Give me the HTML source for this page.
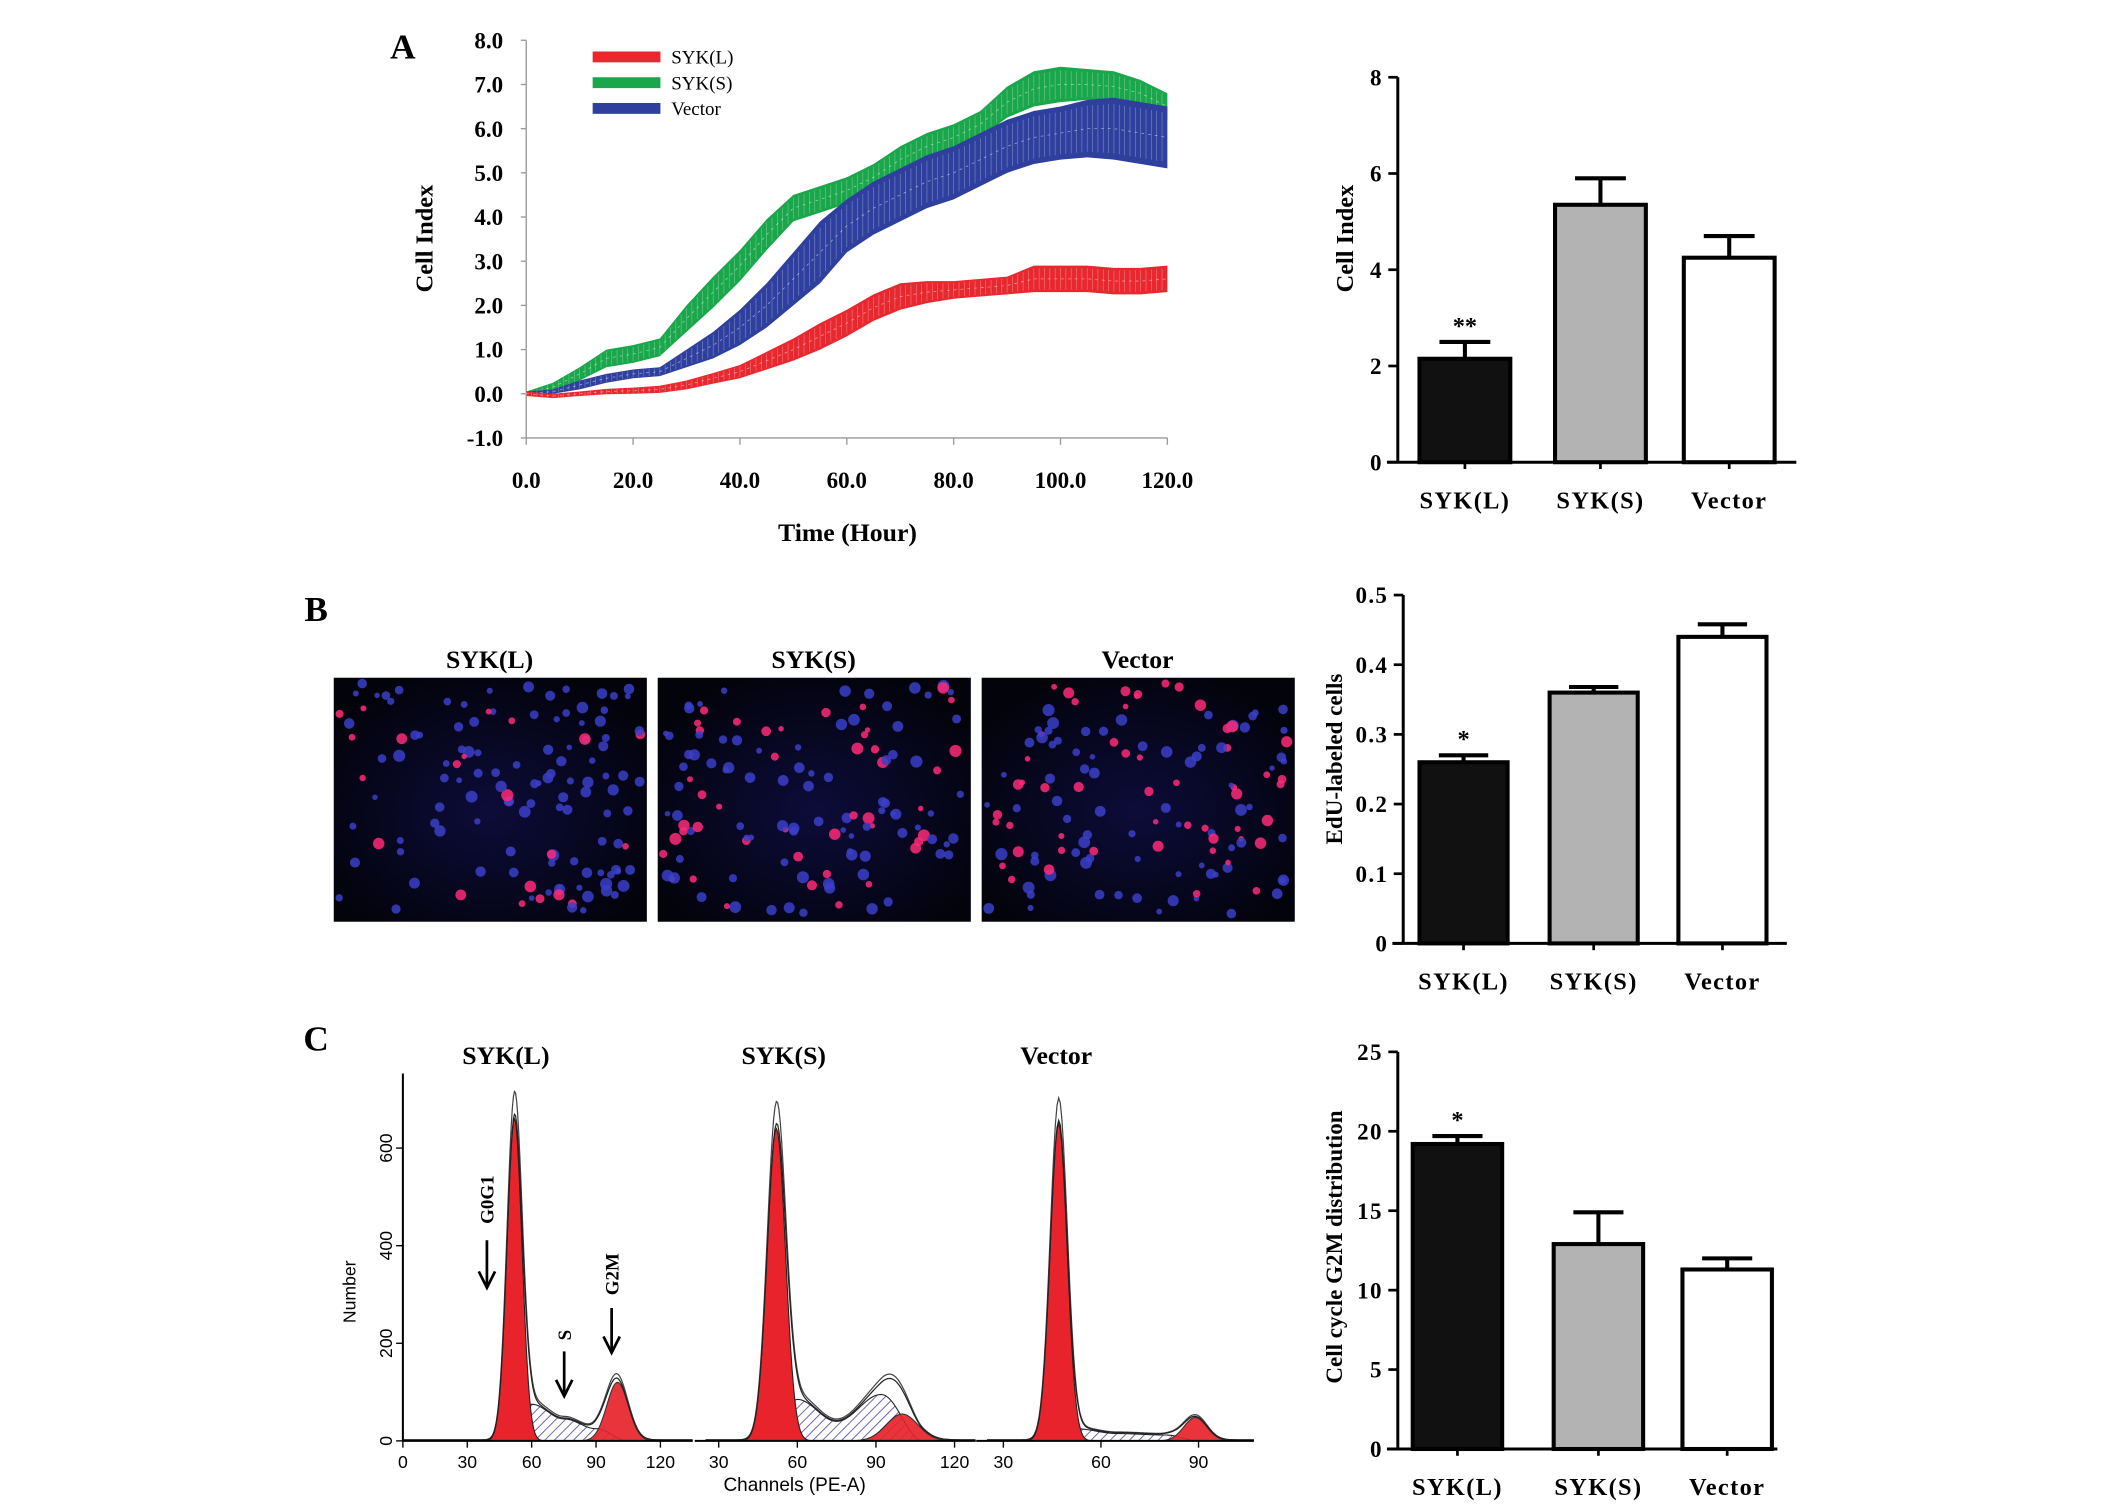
<!DOCTYPE html>
<html><head><meta charset="utf-8"><style>
html,body{margin:0;padding:0;background:#fff;}
svg{display:block;}
.sf{font-family:"Liberation Serif",serif;font-weight:bold;}
.ss{font-family:"Liberation Sans",sans-serif;}
</style></head><body>
<svg id="fig" width="2126" height="1510" viewBox="0 0 1568 1114" xmlns="http://www.w3.org/2000/svg">
<defs>
<pattern id="hatch" patternUnits="userSpaceOnUse" width="5" height="5" patternTransform="rotate(45)">
<rect width="5" height="5" fill="#fff"/><line x1="0" y1="0" x2="0" y2="5" stroke="#4a4aa0" stroke-width="1.2"/>
</pattern>
<radialGradient id="glow" cx="50%" cy="55%" r="60%"><stop offset="0" stop-color="#0c0c3a"/><stop offset="1" stop-color="#03030c"/></radialGradient>
</defs>
<g id="root"></g>
</svg>
<script>
// ---------- Panel A line chart data ----------
const hours = [0,5,10,15,20,25,30,35,40,45,50,55,60,65,70,75,80,85,90,95,100,105,110,115,120];
const sykLMean = [0,-0.05,0,0.05,0.07,0.1,0.2,0.35,0.5,0.75,1.0,1.3,1.6,1.95,2.2,2.3,2.35,2.4,2.45,2.6,2.6,2.6,2.55,2.55,2.6];
const sykLErr  = [0.05,0.05,0.05,0.06,0.07,0.08,0.1,0.12,0.15,0.2,0.25,0.3,0.3,0.3,0.3,0.25,0.2,0.2,0.2,0.3,0.3,0.3,0.3,0.3,0.3];
const sykSMean = [0,0.15,0.45,0.8,0.9,1.05,1.7,2.3,2.9,3.6,4.2,4.4,4.6,4.9,5.3,5.6,5.8,6.1,6.6,6.9,7.0,7.0,6.95,6.8,6.5];
const sykSErr  = [0.05,0.1,0.15,0.2,0.2,0.2,0.3,0.35,0.35,0.35,0.3,0.3,0.3,0.3,0.3,0.3,0.3,0.3,0.35,0.4,0.4,0.35,0.35,0.3,0.3];
const vecMean  = [0,0.05,0.2,0.35,0.45,0.5,0.8,1.1,1.5,2.0,2.6,3.2,3.8,4.2,4.5,4.8,5.0,5.3,5.6,5.8,5.9,6.0,6.0,5.9,5.8];
const vecErr   = [0.05,0.05,0.1,0.1,0.1,0.1,0.2,0.3,0.4,0.5,0.6,0.7,0.6,0.6,0.6,0.6,0.6,0.6,0.6,0.6,0.6,0.65,0.7,0.7,0.7];
const xTicksA = [0,20,40,60,80,100,120];
const yTicksA = [-1,0,1,2,3,4,5,6,7,8];
// ---------- bar charts ----------
const groups = ["SYK(L)","SYK(S)","Vector"];
const ciValues = [2.15,5.35,4.25];
const ciErrors = [0.35,0.55,0.45];
const ciTicks = [0,2,4,6,8];
const eduValues = [0.26,0.36,0.44];
const eduErrors = [0.01,0.008,0.018];
const eduTicks = [0,0.1,0.2,0.3,0.4,0.5];
const g2mValues = [19.2,12.9,11.3];
const g2mErrors = [0.5,2.0,0.7];
const g2mTicks = [0,5,10,15,20,25];
// ---------- histograms [mu, sd, height] ----------
const histG1 = [[52,3.5,660],[52,3.5,640],[47,2.6,650]];
const histG2 = [[100,5,120],[100,6,55],[89,3.5,48]];
const histSch = [[50,60,75,90,105],[50,60,75,92,108],[45,52,65,80,90]];
const histScnt = [[0,75,45,25,0],[0,85,40,95,0],[0,25,15,12,0]];

const NS="http://www.w3.org/2000/svg";
const root=document.getElementById('root');
function mk(tag,attrs,parent,text){const e=document.createElementNS(NS,tag);for(const k in attrs)e.setAttribute(k,attrs[k]);if(text!==undefined)e.textContent=text;(parent||root).appendChild(e);return e;}

// ===== Panel A line chart =====
const gA=mk('g',{});


const ax=h=>388+h*(861-388)/120, ay=v=>290.5-v*32.6;
let t=mk('text',{x:297,y:43,'font-size':26,class:'sf','text-anchor':'middle'},gA,'A');

mk('line',{x1:388,y1:ay(8),x2:388,y2:ay(-1),stroke:'#999','stroke-width':1},gA);
mk('line',{x1:388,y1:ay(-1),x2:861,y2:ay(-1),stroke:'#999','stroke-width':1},gA);
yTicksA.forEach(v=>{mk('line',{x1:384,y1:ay(v),x2:388,y2:ay(v),stroke:'#999'},gA);
 const e=mk('text',{x:371,y:ay(v)+6,'font-size':17,class:'sf','text-anchor':'end'},gA,v.toFixed(1));
 });
xTicksA.forEach(v=>{mk('line',{x1:ax(v),y1:ay(-1),x2:ax(v),y2:ay(-1)+5,stroke:'#999'},gA);
 const e=mk('text',{x:ax(v),y:360,'font-size':17,class:'sf','text-anchor':'middle'},gA,v.toFixed(1));
 });
t=mk('text',{x:0,y:0,'font-size':18,class:'sf','text-anchor':'middle',transform:'translate(319,176) rotate(-90)'},gA,'Cell Index');

t=mk('text',{x:625,y:399,'font-size':19,class:'sf','text-anchor':'middle'},gA,'Time (Hour)');

function band(mean,err,color,name){
 let up=hours.map((h,i)=>ax(h)+','+ay(mean[i]+err[i]));
 let dn=hours.map((h,i)=>ax(h)+','+ay(mean[i]-err[i])).reverse();
 const p=mk('polygon',{points:up.concat(dn).join(' '),fill:color},gA);
 
 // faint vertical error-bar striping
 for(let i=0;i<hours.length-1;i++){for(let s=0;s<5;s++){const f=s/5;const h=hours[i]+f*(hours[i+1]-hours[i]);
   const m=mean[i]+f*(mean[i+1]-mean[i]),e=err[i]+f*(err[i+1]-err[i]);
   mk('line',{x1:ax(h),y1:ay(m+e*0.8),x2:ax(h),y2:ay(m-e*0.8),stroke:'#fff','stroke-width':0.5,opacity:0.35},gA);}}
 const l=mk('polyline',{points:hours.map((h,i)=>ax(h)+','+ay(mean[i])).join(' '),fill:'none',stroke:'#fff','stroke-width':0.6,'stroke-dasharray':'2 3',opacity:0.5},gA);
 
}
band(sykSMean,sykSErr,'#1aa64a','syk-s');
band(vecMean,vecErr,'#2e3f9e','vector');
band(sykLMean,sykLErr,'#e8282e','syk-l');
[['SYK(L)','#e8282e',42],['SYK(S)','#1aa64a',61],['Vector','#2e3f9e',80]].forEach(d=>{
 const g=mk('g',{},gA);
 mk('rect',{x:437,y:d[2]-4,width:50,height:8,fill:d[1]},g);
 mk('text',{x:495,y:d[2]+5,'font-size':14,'font-family':'Liberation Serif, serif'},g,d[0]);
});

// ===== Bar charts =====
function barChart(cfg){
 const g=mk('g',{});
 const sy=v=>cfg.y0-(v/cfg.max)*(cfg.y0-cfg.ytop);
 mk('line',{x1:cfg.ax,y1:cfg.ytop,x2:cfg.ax,y2:cfg.y0,stroke:'#000','stroke-width':2.2},g);
 mk('line',{x1:cfg.ax-8,y1:cfg.y0,x2:cfg.xend,y2:cfg.y0,stroke:'#000','stroke-width':2.2},g);
 cfg.ticks.forEach(v=>{mk('line',{x1:cfg.ax-7,y1:sy(v),x2:cfg.ax,y2:sy(v),stroke:'#000','stroke-width':2},g);
  const e=mk('text',{x:cfg.ax-11,y:sy(v)+6,'font-size':17,class:'sf','text-anchor':'end','letter-spacing':'1'},g,String(v));
  });
 const fills=['#111','#b3b3b3','#fff'];
 cfg.vals.forEach((v,i)=>{
  const x0=cfg.bx[i],w=cfg.bw;
  const r=mk('rect',{x:x0,y:sy(v),width:w,height:cfg.y0-sy(v),fill:fills[i],stroke:'#000','stroke-width':3},g);
  
  const cx=x0+w/2;
  mk('line',{x1:cx,y1:sy(v),x2:cx,y2:sy(v+cfg.errs[i]),stroke:'#000','stroke-width':3},g);
  mk('line',{x1:cx-w*0.28,y1:sy(v+cfg.errs[i]),x2:cx+w*0.28,y2:sy(v+cfg.errs[i]),stroke:'#000','stroke-width':3},g);
  mk('line',{x1:cx,y1:cfg.y0,x2:cx,y2:cfg.y0+5,stroke:'#000','stroke-width':2},g);
  const e=mk('text',{x:cx,y:cfg.y0+34,'font-size':18,class:'sf','text-anchor':'middle','letter-spacing':'1'},g,groups[i]);
  
  if(cfg.stars[i]){const s=mk('text',{x:cx,y:sy(v+cfg.errs[i])-6,'font-size':18,class:'sf','text-anchor':'middle'},g,cfg.stars[i]);
   }
 });
 const tt=mk('text',{x:0,y:0,'font-size':cfg.fs,class:'sf','text-anchor':'middle',transform:`translate(${cfg.tx},${cfg.ty}) rotate(-90)`},g,cfg.title);
 
}
barChart({name:'cell-index-bar-chart',ax:1031,y0:341,ytop:57,max:8,xend:1325,ticks:ciTicks,vals:ciValues,errs:ciErrors,bx:[1047,1147,1242],bw:67,stars:['**','',''],title:'Cell Index',tx:998,ty:176,fs:18});
barChart({name:'edu-bar-chart',ax:1035,y0:696,ytop:439,max:0.5,xend:1318,ticks:eduTicks,vals:eduValues,errs:eduErrors,bx:[1047,1143,1238],bw:65,stars:['*','',''],title:'EdU-labeled cells',tx:990,ty:560,fs:17});
barChart({name:'g2m-bar-chart',ax:1031,y0:1069,ytop:776,max:25,xend:1311,ticks:g2mTicks,vals:g2mValues,errs:g2mErrors,bx:[1042,1146,1241],bw:66,stars:['*','',''],title:'Cell cycle G2M distribution',tx:990,ty:920,fs:17});

// ===== Panel B images =====
t=mk('text',{x:233,y:458,'font-size':26,class:'sf','text-anchor':'middle'},root,'B');

let seed=7;const rnd=()=>{seed=(seed*16807)%2147483647;return seed/2147483647;};
[[246,'SYK(L)',0.2],[485,'SYK(S)',0.35],[724,'Vector',0.45]].forEach(d=>{
 const g=mk('g',{});
 mk('rect',{x:d[0],y:500,width:231,height:180,fill:'url(#glow)'},g);
 for(let i=0;i<130;i++){const x=d[0]+4+rnd()*223,y=504+rnd()*172,r=2+rnd()*2.5;
  mk('circle',{cx:x,cy:y,r:r,fill:rnd()<d[2]?'#ff2a78':'#3b3fc8',opacity:0.85},g);}
 const e=mk('text',{x:d[0]+115,y:493,'font-size':19,class:'sf','text-anchor':'middle'},g,d[1]);
 
});

// ===== Panel C histograms =====
t=mk('text',{x:233,y:775,'font-size':26,class:'sf','text-anchor':'middle'},root,'C');

const hy=n=>1063-n*0.36;
const hcfg=[
 {name:'syk-l',title:'SYK(L)',tx:373,x0:297,c0:0,k:190/120,cmin:0,cmax:135,ticks:[0,30,60,90,120]},
 {name:'syk-s',title:'SYK(S)',tx:578,x0:530,c0:30,k:174/90,cmin:25,cmax:128,ticks:[30,60,90,120]},
 {name:'vector',title:'Vector',tx:779,x0:740,c0:30,k:2.4,cmin:25,cmax:107,ticks:[30,60,90]}];
function gauss(c,p){return p[2]*Math.exp(-0.5*((c-p[0])/p[1])**2);}
function sval(c,i){const ch=histSch[i],ct=histScnt[i];if(c<=ch[0]||c>=ch[ch.length-1])return 0;
 for(let j=0;j<ch.length-1;j++)if(c>=ch[j]&&c<=ch[j+1]){const f=(c-ch[j])/(ch[j+1]-ch[j]);const s=(1-Math.cos(f*Math.PI))/2;return ct[j]+(ct[j+1]-ct[j])*s;}return 0;}
hcfg.forEach((h,i)=>{
 const g=mk('g',{});
 const hx=c=>h.x0+(c-h.c0)*h.k;
 const cs=[];for(let c=h.cmin;c<=h.cmax;c+=0.5)cs.push(c);
 const base=hy(0);
 const path=f=>'M'+hx(cs[0])+','+base+' '+cs.map(c=>'L'+hx(c)+','+hy(f(c))).join(' ')+' L'+hx(cs[cs.length-1])+','+base+'Z';
 mk('path',{d:path(c=>sval(c,i)),fill:'url(#hatch)',stroke:'#222','stroke-width':0.8},g);
 mk('path',{d:path(c=>gauss(c,histG1[i])),fill:'#e8232b',stroke:'#222','stroke-width':0.8},g);
 mk('path',{d:path(c=>gauss(c,histG2[i])),fill:'#e8232b',stroke:'#222','stroke-width':0.8,opacity:0.92},g);
 const tot=c=>gauss(c,histG1[i])+gauss(c,histG2[i])+sval(c,i)+2;
 mk('polyline',{points:cs.map(c=>hx(c)+','+hy(tot(c)*1.07)).join(' '),fill:'none',stroke:'#444','stroke-width':0.9},g);
 mk('polyline',{points:cs.map(c=>hx(c)+','+hy(tot(c))).join(' '),fill:'none',stroke:'#222','stroke-width':0.9},g);
 mk('line',{x1:hx(h.cmin)-(i?8:0),y1:base,x2:hx(h.cmax),y2:base,stroke:'#000','stroke-width':1.5},g);
 h.ticks.forEach(v=>{mk('line',{x1:hx(v),y1:base,x2:hx(v),y2:base+5,stroke:'#000'},g);
  const e=mk('text',{x:hx(v),y:base+20,'font-size':13,class:'ss','text-anchor':'middle'},g,String(v));
  });
 const e=mk('text',{x:h.tx,y:785,'font-size':19,class:'sf','text-anchor':'middle'},g,h.title);
 
});
mk('line',{x1:297,y1:792,x2:297,y2:1063,stroke:'#000','stroke-width':1.5});
[0,200,400,600].forEach(v=>{mk('line',{x1:292,y1:hy(v),x2:297,y2:hy(v),stroke:'#000'});
 const e=mk('text',{x:0,y:0,'font-size':13,class:'ss','text-anchor':'middle',transform:`translate(289,${hy(v)}) rotate(-90)`},root,String(v));
 });
t=mk('text',{x:0,y:0,'font-size':13,class:'ss','text-anchor':'middle',transform:'translate(262,953) rotate(-90)'},root,'Number');

t=mk('text',{x:586,y:1100,'font-size':14,class:'ss','text-anchor':'middle'},root,'Channels (PE-A)');

function arrow(x,y1,y2,name){const g=mk('g',{});
 mk('line',{x1:x,y1:y1,x2:x,y2:y2,stroke:'#000','stroke-width':2},g);
 mk('polyline',{points:`${x-6},${y2-12} ${x},${y2} ${x+6},${y2-12}`,fill:'none',stroke:'#000','stroke-width':2},g);}
arrow(359,915,950,'g0g1-arrow');arrow(416,997,1030,'s-arrow');arrow(451,965,998,'g2m-arrow');
[['G0G1',364,885],['S',421,985],['G2M',456,940]].forEach(d=>{
 const e=mk('text',{x:0,y:0,'font-size':14,class:'sf','text-anchor':'middle',transform:`translate(${d[1]},${d[2]}) rotate(-90)`},root,d[0]);
 });
</script>
</body></html>
